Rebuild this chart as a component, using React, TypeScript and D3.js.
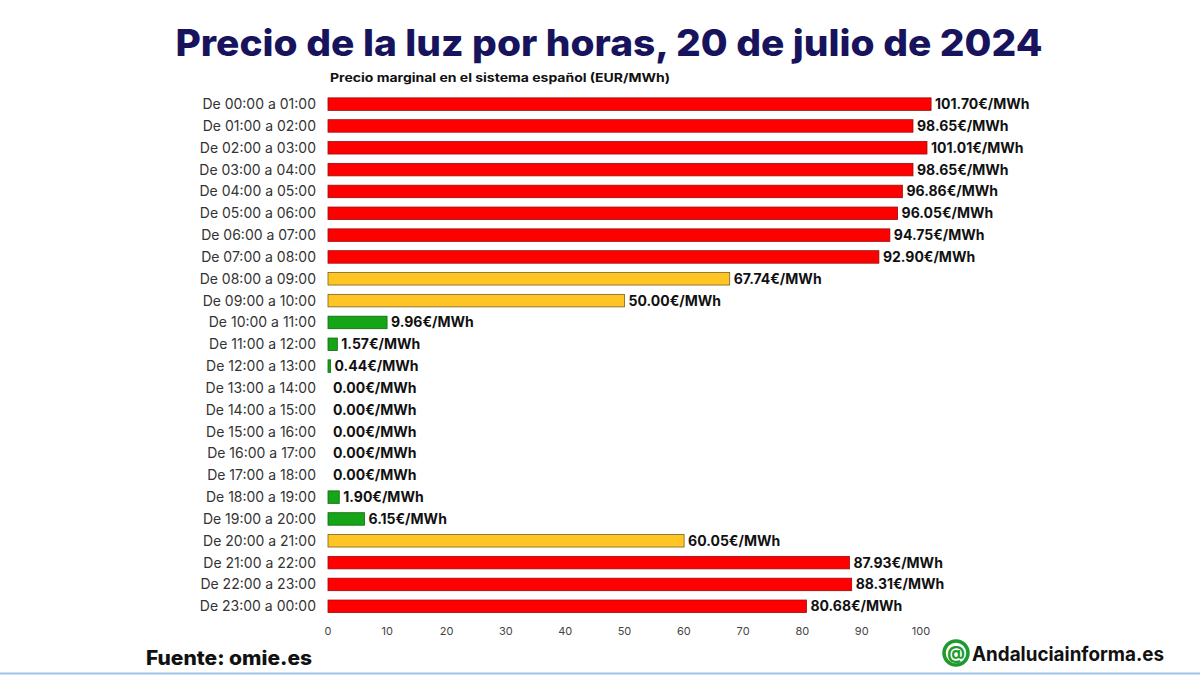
import React from "react";
import * as d3 from "d3";

const hours: string[] = [
  "De 00:00 a 01:00", "De 01:00 a 02:00", "De 02:00 a 03:00", "De 03:00 a 04:00",
  "De 04:00 a 05:00", "De 05:00 a 06:00", "De 06:00 a 07:00", "De 07:00 a 08:00",
  "De 08:00 a 09:00", "De 09:00 a 10:00", "De 10:00 a 11:00", "De 11:00 a 12:00",
  "De 12:00 a 13:00", "De 13:00 a 14:00", "De 14:00 a 15:00", "De 15:00 a 16:00",
  "De 16:00 a 17:00", "De 17:00 a 18:00", "De 18:00 a 19:00", "De 19:00 a 20:00",
  "De 20:00 a 21:00", "De 21:00 a 22:00", "De 22:00 a 23:00", "De 23:00 a 00:00",
];
const prices: number[] = [
  101.7, 98.65, 101.01, 98.65, 96.86, 96.05, 94.75, 92.9, 67.74, 50.0, 9.96, 1.57,
  0.44, 0, 0, 0, 0, 0, 1.9, 6.15, 60.05, 87.93, 88.31, 80.68,
];
const xTicks: number[] = [0, 10, 20, 30, 40, 50, 60, 70, 80, 90, 100];

const TITLE = "Precio de la luz por horas, 20 de julio de 2024";
const SUBTITLE = "Precio marginal en el sistema español (EUR/MWh)";
const SOURCE = "Fuente: omie.es";
const BRAND = "Andaluciainforma.es";

const FONT = "Inter, 'Open Sans', sans-serif";

function colorFor(v: number): [string, string] {
  if (v >= 75) return ["#ff0000", "#9a0b0b"];
  if (v >= 20) return ["#ffc524", "#7a6020"];
  return ["#16a516", "#0d6a0d"];
}

export default function App() {
  const W = 1200;
  const H = 675;
  const x = d3.scaleLinear().domain([0, 100]).range([328, 921]);
  const y = d3
    .scaleBand<string>()
    .domain(hours)
    .range([93.2, 617.2])
    .paddingInner(0.44)
    .paddingOuter(0.22);
  const bh = 12.5;

  return (
    <svg
      width={W}
      height={H}
      viewBox={`0 0 ${W} ${H}`}
      style={{ position: "absolute", left: 0, top: 0, background: "#fff" }}
    >
      <rect x={0} y={0} width={W} height={H} fill="#ffffff" />
      <text
        x={609}
        y={56}
        textAnchor="middle"
        fontFamily={FONT}
        fontWeight={800}
        fontSize={37}
        fill="#17135c"
        textLength={867}
        lengthAdjust="spacingAndGlyphs"
      >
        {TITLE}
      </text>
      <text
        x={330}
        y={82}
        fontFamily={FONT}
        fontWeight={700}
        fontSize={12}
        fill="#111"
        textLength={340}
        lengthAdjust="spacingAndGlyphs"
      >
        {SUBTITLE}
      </text>

      {hours.map((h, i) => {
        const v = prices[i];
        const cy = (y(h) as number) + y.bandwidth() / 2;
        const [fill, stroke] = colorFor(v);
        const w = x(v) - x(0);
        return (
          <g key={h}>
            <text
              x={316}
              y={cy}
              dy="0.35em"
              textAnchor="end"
              fontFamily={FONT}
              fontSize={14}
              fill="#333"
            >
              {h}
            </text>
            {w > 0 && (
              <rect
                x={x(0)}
                y={cy - bh / 2}
                width={w}
                height={bh}
                fill={fill}
                stroke={stroke}
                strokeWidth={0.8}
              />
            )}
            <text
              x={x(v) + (w > 0 ? 4 : 5)}
              y={cy}
              dy="0.35em"
              fontFamily={FONT}
              fontWeight={700}
              fontSize={14}
              fill="#111"
            >
              {v.toFixed(2) + "€/MWh"}
            </text>
          </g>
        );
      })}

      {xTicks.map((t) => (
        <text
          key={t}
          x={x(t)}
          y={635}
          textAnchor="middle"
          fontFamily={FONT}
          fontSize={11}
          fill="#444"
        >
          {t}
        </text>
      ))}

      <text
        x={146}
        y={665}
        fontFamily={FONT}
        fontWeight={800}
        fontSize={20}
        fill="#111"
        textLength={166}
        lengthAdjust="spacingAndGlyphs"
      >
        {SOURCE}
      </text>

      <g>
        <circle cx={956} cy={653} r={12} fill="none" stroke="#1d9a2e" strokeWidth={3.5} />
        <text
          x={956}
          y={653}
          dy="0.35em"
          textAnchor="middle"
          fontFamily={FONT}
          fontWeight={800}
          fontSize={17}
          fill="#1d9a2e"
        >
          @
        </text>
        <text
          x={972}
          y={661}
          fontFamily={FONT}
          fontWeight={700}
          fontSize={20}
          fill="#111"
          textLength={192}
          lengthAdjust="spacingAndGlyphs"
        >
          {BRAND}
        </text>
      </g>

      <line x1={0} x2={W} y1={673.5} y2={673.5} stroke="#9ec3e6" strokeWidth={2} />
    </svg>
  );
}
